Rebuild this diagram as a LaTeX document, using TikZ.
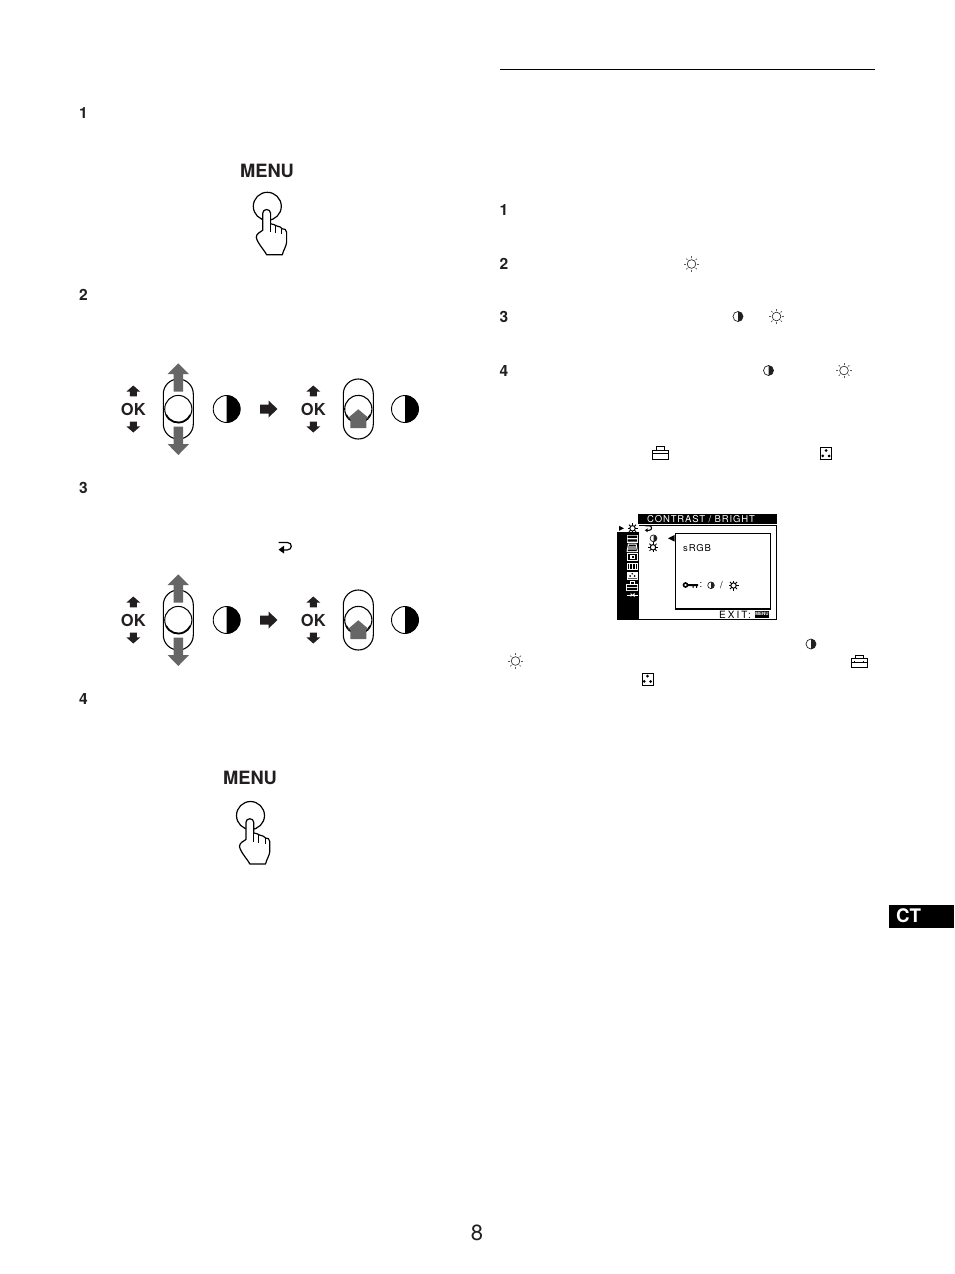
\documentclass[tikz,border=0pt]{standalone}
\usepackage{fontspec}
\setmainfont{TeX Gyre Heros}
\newcommand{\fsz}[1]{\fontsize{#1}{#1}\selectfont}
\definecolor{ink}{HTML}{231F20}
\definecolor{greyarrow}{HTML}{666666}
\tikzset{
  stepnum/.style={font=\fsz{15.5}\bfseries,text=ink,inner sep=0pt},
  menulabel/.style={font=\fsz{18.3}\bfseries,text=ink,inner sep=0pt},
  oklabel/.style={font=\fsz{16.5}\bfseries,text=ink,inner sep=0pt},
  osdtext/.style={font=\fsz{9.5},inner sep=0pt},
  pics/sunicon/.style={code={
    \draw[ink,line width=.6pt] (0,0) circle[radius=#1*.62];
    \foreach \a in {0,45,...,315}{\draw[ink!75,line width=.7pt] (\a:#1*.83) -- (\a:#1*1.08);}
  }},
  pics/osdsun/.style={code={
    \draw[black,line width=1pt] (0,0) circle[radius=2.7];
    \foreach \a in {0,45,...,315}{\draw[black,line width=.8pt] (\a:2.7) -- (\a:5);}
  }},
  pics/halficon/.style={code={
    \fill[ink] (0,-#1) arc[start angle=90,end angle=-90,radius=#1*1pt] -- cycle;
    \draw[ink,line width=.7pt] (0,0) circle[radius=#1];
  }},
  pics/bighalf/.style={code={
    \fill[black] (0,-13.5) arc[start angle=90,end angle=-90,radius=13.5pt] -- cycle;
    \draw[black,line width=.9pt] (0,0) circle[radius=13.5];
  }},
  pics/toolicon/.style={code={
    \draw[black,line width=.9pt] (-8,-3) rectangle (8,6);
    \draw[black,line width=.9pt] (-4,-3) -- (-4,-6.3) -- (4,-6.3) -- (4,-3);
    \draw[black,line width=.6pt] (-8,.5) -- (8,.5);
    \draw[black,line width=.8pt] (-4.5,-.2) -- (-4.5,1.4) (4.5,-.2) -- (4.5,1.4);
  }},
  pics/dotsicon/.style={code={
    \draw[black,line width=.9pt] (-5.5,-6) rectangle (5.5,6);
    \fill[black] (0,-3) circle[radius=1.5] (-3.3,2.4) circle[radius=1.5] (3.1,2.4) circle[radius=1.5];
  }},
  pics/pushhand/.style={code={
    \draw[black,line width=1.2pt] (0,0) circle[radius=14];
    \path[fill=white,draw=black,line width=1.2pt,line join=round]
      (-4.6,7) .. controls (-4.6,2) and (3.3,2) .. (3.3,7)
      -- (3.3,17.5) .. controls (6,18) and (8,18.5) .. (9,19.5)
      .. controls (12,20) and (14,21) .. (15,22.5)
      .. controls (17,22.5) and (19.3,23) .. (19.3,26)
      -- (19.3,36) .. controls (19,40) and (16,44) .. (15,48.5)
      -- (-.7,48.5) .. controls (-2,45) and (-10,37) .. (-11,31)
      .. controls (-11,27) and (-7,26) .. (-4.6,24) -- cycle;
    \draw[black,line width=.9pt] (8,19.5) -- (8,27) (14.5,22.5) -- (14.5,28) (3.3,17.5) -- (3.3,26);
  }},
  pics/okcontrol/.style={code={
    \node[oklabel] (-txt) at (0,0) {OK};
    \fill[ink] (0,-23.5) -- (7,-17.3) -- (3.5,-17.3) -- (3.5,-12.7) -- (-3.5,-12.7) -- (-3.5,-17.3) -- (-7,-17.3) -- cycle;
    \fill[ink] (0,23.5) -- (7,17.3) -- (3.5,17.3) -- (3.5,12.7) -- (-3.5,12.7) -- (-3.5,17.3) -- (-7,17.3) -- cycle;
  }},
  pics/capsule/.style={code={
    \draw[black,line width=1.1pt] (-15,-15) arc[start angle=180,end angle=0,radius=15pt] -- (15,15) arc[start angle=0,end angle=-180,radius=15pt] -- cycle;
  }},
  pics/movearrows/.style={code={
    \fill[greyarrow] (0,-45.7) -- (10.7,-35) -- (4.7,-35) -- (4.7,-17.3) -- (-4.7,-17.3) -- (-4.7,-35) -- (-10.7,-35) -- cycle;
    \fill[greyarrow] (0,46) -- (10.7,35) -- (4.7,35) -- (4.7,17.7) -- (-4.7,17.7) -- (-4.7,35) -- (-10.7,35) -- cycle;
  }},
  pics/pressarrow/.style={code={
    \fill[greyarrow] (0,0.3) -- (10.7,9.3) -- (8,9.3) -- (8,19) -- (-8,19) -- (-8,9.3) -- (-10.7,9.3) -- cycle;
  }},
  pics/nextarrow/.style={code={
    \fill[ink] (0,-4.5) -- (8.5,-4.5) -- (8.5,-8.5) -- (17.5,0) -- (8.5,8.5) -- (8.5,4.5) -- (0,4.5) -- cycle;
  }},
  pics/returnicon/.style={code={
    \draw[black,line width=1.2pt] (-6.5,-5) -- (2.5,-5) .. controls (7.5,-5) and (7.5,2.4) .. (2.5,2.4) -- (-3,2.4);
    \fill[black] (-6.5,2.2) -- (-1,-1.8) -- (-1,6) -- cycle;
  }},
  pics/osdreturn/.style={code={
    \draw[black,line width=1.1pt] (-3.2,-2.6) -- (.5,-2.6) .. controls (4,-2.6) and (4,2) .. (.5,2) -- (-2,2);
    \fill[black] (-3.6,2) -- (-.8,0) -- (-.8,4) -- cycle;
  }}
}
\newcommand{\controlrow}[2]{%
  \pic (ok#1a) at (133.3,#2) {okcontrol};
  \pic at (178.3,#2) {capsule};
  \draw[black,line width=1pt,fill=white] (178.3,#2) circle[radius=13.6];
  \draw[black,line width=1.8pt] (166.2,#2+6) arc[start angle=-154,end angle=-26,radius=13.4pt];
  \pic at (178.3,#2) {movearrows};
  \pic at (226.7,#2) {bighalf};
  \pic at (260,#2) {nextarrow};
  \pic (ok#1b) at (313.3,#2) {okcontrol};
  \pic at (358.3,#2) {capsule};
  \draw[black,line width=1.1pt] (358.3,#2) circle[radius=13.6];
  \draw[black,line width=1.8pt] (346.2,#2+6) arc[start angle=-154,end angle=-26,radius=13.4pt];
  \pic at (358.3,#2) {pressarrow};
  \pic at (405,#2) {bighalf};
}
\begin{document}
\begin{tikzpicture}[x=1pt,y=-1pt]
\useasboundingbox (0,0) rectangle (954,1274);
\fill[white] (0,0) rectangle (954,1274);
% step numbers
\node[stepnum] (l1) at (83.5,113) {1};
\node[stepnum] (l2) at (83.5,295) {2};
\node[stepnum] (l3) at (83.5,488) {3};
\node[stepnum] (l4) at (83.5,699) {4};
\node[stepnum] (r1) at (504,210) {1};
\node[stepnum] (r2) at (504,264) {2};
\node[stepnum] (r3) at (504,317) {3};
\node[stepnum] (r4) at (504,371) {4};
% top rule
\draw[black,line width=.9pt] (500,69.5) -- (875,69.5);
% menu buttons
\node[menulabel] (menua) at (267,171) {MENU};
\pic at (267.3,206.3) {pushhand};
\node[menulabel] (menub) at (250,777.5) {MENU};
\pic at (250.5,815.5) {pushhand};
% control rows
\controlrow{p}{409}
\controlrow{q}{620}
\pic at (285,547.5) {returnicon};
% inline icons
\pic at (691.5,264) {sunicon=7};
\pic at (738,316.5) {halficon=5};
\pic at (776.5,316.5) {sunicon=7};
\pic at (768.5,370.5) {halficon=5};
\pic at (844,370.5) {sunicon=7};
\pic at (660.5,453) {toolicon};
\pic at (826,453.5) {dotsicon};
\pic at (811,644) {halficon=5};
\pic at (515.5,661) {sunicon=7};
\pic at (859,661.5) {toolicon};
\pic at (647.5,679) {dotsicon};
% OSD
\draw[black,line width=.9pt] (617.5,525) rectangle (776.8,619.5);
\fill[black] (617,525) rectangle (638.5,620);
\fill[black] (638,513.5) rectangle (777,524);
\node[osdtext,text=white,anchor=west] (osdtitle) at (647,518.8) {\addfontfeatures{LetterSpace=9}CONTRAST / BRIGHT};
\draw[black,line width=.9pt,fill=white] (675.5,533.5) rectangle (770,608.5);
\draw[black,line width=1.5pt] (675,608.8) -- (770.5,608.8);
\node[osdtext,anchor=west] (srgb) at (683,548.5) {\addfontfeatures{LetterSpace=9}sRGB};
% selected row
\fill[white] (617,525) rectangle (638.5,531.7);
\fill[black] (619,525.8) -- (624,528.3) -- (619,530.8) -- cycle;
\pic at (632.5,528.3) {osdsun};
% column icons
\fill[white] (626.5,534.5) rectangle (638,542.5);
\fill[black] (627.5,535.5) rectangle (637,537.8) (627.5,539.3) rectangle (637,541.5);
\fill[white] (628,543.5) -- (636.5,543.5) -- (638,552) -- (626.5,552) -- cycle;
\fill[black] (629,544.5) -- (635.5,544.5) -- (636.8,551) -- (627.7,551) -- cycle;
\fill[white!55!black] (628.3,546) rectangle (636.2,549.5);
\fill[white] (626.5,553) rectangle (638,560.5);
\fill[black] (627.5,554) rectangle (637,559.5);
\fill[white] (629.5,555) rectangle (635,558.5);
\fill[black] (631.5,556) rectangle (633.5,557.5);
\fill[white] (626.5,562.5) rectangle (638,570);
\fill[black] (627.5,563.5) rectangle (637,569);
\draw[white,line width=.8pt] (629.4,563.5) -- (629.4,569) (632.2,563.5) -- (632.2,569) (635,563.5) -- (635,569);
\fill[white] (627,572) rectangle (637.5,580);
\fill[black] (630,576) circle[radius=1] (634.5,576) circle[radius=1] (632.2,573.8) circle[radius=.9] (628,578) rectangle (637,578.6);
\draw[white,line width=1pt] (630,584) -- (630,581) -- (634.5,581) -- (634.5,584);
\fill[white] (626,584) rectangle (638,591);
\fill[black] (627,585) rectangle (637,587) (627,588) rectangle (637,590);
\draw[white,line width=.8pt] (626.5,595) -- (637.5,595);
\fill[white] (630.5,592.8) -- (632.5,595) -- (630.5,597.2) -- cycle (634.5,592.8) -- (632.5,595) -- (634.5,597.2) -- cycle;
\pic at (648.5,528.3) {osdreturn};
\pic at (653.5,538.3) {halficon=3.4};
\pic at (653,547.3) {osdsun};
\fill[black] (668,538.3) -- (674.5,535) -- (674.5,541.6) -- cycle;
% key legend
\draw[black,line width=1.6pt] (685.5,585) circle[radius=2];
\fill[black] (687.5,584) rectangle (698,586) (692.5,586) rectangle (693.7,587.8) (696,586) rectangle (697.2,587.8);
\node[osdtext] (keyc) at (701,585) {:};
\pic at (711,585.3) {halficon=3.3};
\node[osdtext] (slash) at (721.5,585.3) {/};
\pic at (733.5,585.5) {osdsun};
% exit
\node[osdtext,anchor=west,font=\fsz{10}] (exit) at (719,614.5) {\addfontfeatures{LetterSpace=20}EXIT:};
\fill[black] (755,610.5) rectangle (769,618);
\node[font=\fsz{4.5}\bfseries,text=white,inner sep=0pt] (exitmenu) at (762,614.3) {MENU};
% badge
\fill[black] (889,905) rectangle (954,928);
\node[font=\fsz{18.7}\bfseries,text=white,inner sep=0pt] (ct) at (908.5,916) {CT};
% page number
\node[font=\fsz{22},text=ink,inner sep=0pt] (pagenum) at (477,1233) {8};
\end{tikzpicture}
\end{document}
